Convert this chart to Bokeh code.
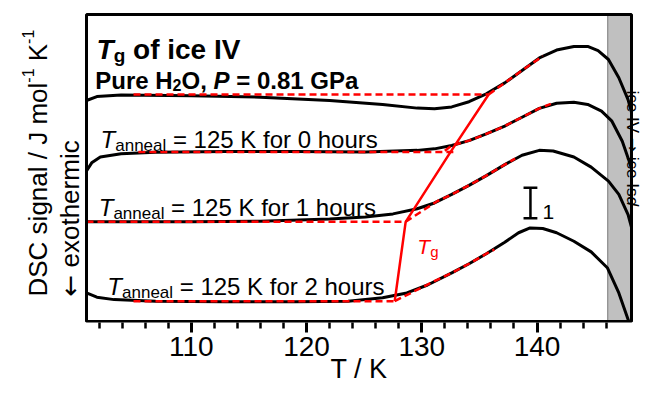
import math
from bokeh.plotting import figure
from bokeh.models import Range1d, FixedTicker, Label
from bokeh.embed import file_html
from bokeh.resources import INLINE

# ---------------- data ----------------
# DSC curves: temperature (K) and signal (J mol^-1 K^-1, offset for clarity)
T_c1 = [100.9, 101.8, 103.9, 110.0, 116.0, 122.0, 126.6, 129.6, 131.1, 132.6, 134.1, 135.6,
        137.2, 138.7, 140.2, 141.7, 143.2, 144.4, 145.3, 146.2, 147.1, 147.9, 148.2]
S_c1 = [7.27, 7.40, 7.45, 7.43, 7.38, 7.27, 7.14, 7.02, 7.00, 7.06, 7.23, 7.49,
        7.85, 8.26, 8.67, 8.93, 9.05, 9.05, 8.91, 8.62, 8.02, 7.30, 6.88]

T_c2 = [100.9, 101.35, 102.1, 103.9, 106.9, 113.0, 119.0, 125.1, 129.6, 131.1, 132.6, 134.1,
        135.6, 137.2, 138.7, 140.2, 141.7, 143.2, 144.4, 145.6, 146.5, 147.4, 148.0, 148.2]
S_c2 = [4.95, 5.22, 5.41, 5.52, 5.57, 5.59, 5.59, 5.58, 5.63, 5.68, 5.79, 5.95,
        6.17, 6.43, 6.72, 7.01, 7.18, 7.21, 7.14, 6.92, 6.59, 5.93, 5.27, 5.02]

T_c3 = [100.9, 110.0, 116.0, 122.0, 125.1, 127.5, 129.6, 131.1, 132.6, 134.1, 135.6, 137.2,
        138.7, 140.2, 141.4, 143.2, 144.7, 146.2, 147.1, 147.9, 148.2]
S_c3 = [3.28, 3.28, 3.30, 3.37, 3.44, 3.54, 3.71, 3.90, 4.18, 4.48, 4.80, 5.16,
        5.47, 5.63, 5.61, 5.41, 5.08, 4.62, 4.18, 3.52, 3.10]

T_c4 = [100.9, 101.8, 103.3, 106.9, 113.0, 119.0, 123.6, 126.6, 128.7, 130.5, 132.6, 134.1,
        135.6, 137.2, 138.4, 139.4, 140.5, 141.7, 143.2, 144.7, 146.1, 147.1, 147.95]
S_c4 = [0.94, 0.80, 0.72, 0.67, 0.65, 0.65, 0.67, 0.78, 0.94, 1.20, 1.60, 1.90,
        2.23, 2.61, 2.92, 3.08, 3.06, 2.92, 2.64, 2.29, 1.77, 0.94, 0.02]

# red dashed baselines (glass) and slopes (liquid) for each curve
base_T = [[104.98, 135.8], [105.4, 133.0], [100.9, 128.6], [104.98, 127.65]]
base_S = [[7.47, 7.47], [5.58, 5.58], [3.28, 3.28], [0.67, 0.67]]
slope_T = [[135.8, 137.2, 138.7, 140.5],
           [132.0, 132.6, 134.1, 135.6, 137.2, 138.7, 140.2, 141.2],
           [128.6, 131.3, 132.6, 134.1, 135.6, 137.2, 138.1],
           [127.65, 131.1, 132.6, 134.1, 135.6, 136.3]]
slope_S = [[7.47, 7.85, 8.26, 8.73],
           [5.62, 5.79, 5.95, 6.17, 6.43, 6.72, 7.01, 7.16],
           [3.28, 3.95, 4.18, 4.48, 4.80, 5.16, 5.36],
           [0.67, 1.33, 1.60, 1.90, 2.23, 2.37]]

# Tg onset points
Tg_T = [135.8, 132.5, 128.6, 127.65]
Tg_S = [7.47, 5.58, 3.28, 0.67]

anneal_hours = ["0", "1", "2"]
x_ticks = [110, 120, 130, 140]
x_minor = [102, 104, 106, 108, 112, 114, 116, 118, 122, 124, 126, 128,
           132, 134, 136, 138, 142, 144, 146]
T_lo, T_hi = 100.9, 148.2          # plotted temperature window
S_lo, S_hi = 0.0, 10.1             # plotted signal window
transition_T = 146.14              # onset of ice IV -> ice Isd
scale_bar_T = 139.43
scale_bar_S = [3.40, 4.40]

# ---------------- helpers ----------------
REG = {' ': 278, ',': 278, '-': 333, '.': 278, '/': 278, '=': 584,
       'A': 667, 'C': 722, 'D': 722, 'G': 778, 'H': 722, 'I': 278, 'J': 500, 'K': 667,
       'O': 778, 'P': 667, 'S': 667, 'T': 611, 'V': 667,
       'a': 556, 'c': 500, 'd': 556, 'e': 556, 'f': 278, 'g': 556, 'h': 556, 'i': 222,
       'l': 222, 'm': 833, 'n': 556, 'o': 556, 'r': 333, 's': 500, 't': 278, 'u': 556,
       'x': 500, '\u2190': 838, '\u2192': 838}
BOLD = dict(REG)
BOLD.update({'A': 722, 'K': 722, 'c': 556, 'd': 611, 'f': 333, 'g': 611, 'h': 611, 'i': 278,
             'l': 278, 'm': 889, 'n': 611, 'o': 611, 'r': 389, 's': 556, 't': 333, 'u': 611})
for d in "0123456789":
    REG[d] = 556
    BOLD[d] = 556

FONT = "Liberation Sans"
ARROW_FONT = "DejaVu Sans"


def tw(text, size, style):
    table = BOLD if "bold" in style else REG
    return sum(table.get(ch, 600) for ch in text) / 1000.0 * size


def runs(p, x, y, parts, angle=0.0):
    off = 0.0
    for part in parts:
        text, size, style, dy, color = part[:5]
        font = part[5] if len(part) > 5 else FONT
        body = text.lstrip(" ")
        off += tw(text[:len(text) - len(body)], size, style)
        if angle == 0:
            xo, yo = off, dy
        elif angle > 0:
            xo, yo = -dy, off
        else:
            xo, yo = dy, -off
        p.add_layout(Label(x=x, y=y, x_offset=xo, y_offset=yo, text=body,
                           text_font=font, text_font_size=f"{size}px",
                           text_font_style=style, text_color=color,
                           text_baseline="alphabetic", text_align="left", angle=angle))
        off += tw(body, size, style)


# ---------------- figure ----------------
W, H = 642, 386
BOX_L, BOX_R, BOX_T, BOX_B = 86, 631, 14, 321     # pixel box of the data window
FRAME_B = 322
kx = (BOX_R - BOX_L) / (T_hi - T_lo)
ky = (BOX_B - BOX_T) / (S_hi - S_lo)

p = figure(width=W, height=H, output_backend="svg", toolbar_location=None,
           x_range=Range1d(T_lo - BOX_L / kx, T_lo + (W - BOX_L) / kx),
           y_range=Range1d(S_lo - (FRAME_B - BOX_B) / ky, S_lo + BOX_B / ky),
           y_axis_location=None, min_border_left=0, min_border_right=0,
           min_border_top=0, min_border_bottom=H - FRAME_B)
p.xgrid.visible = False
p.ygrid.visible = False
p.outline_line_color = None
p.background_fill_color = "white"
p.border_fill_color = "white"

ax = p.xaxis[0]
ax.ticker = FixedTicker(ticks=x_ticks, minor_ticks=x_minor)
ax.axis_line_color = None
ax.major_tick_in = 0
ax.major_tick_out = 10
ax.major_tick_line_width = 3
ax.minor_tick_in = 0
ax.minor_tick_out = 6
ax.minor_tick_line_width = 2.5
ax.major_label_text_font = FONT
ax.major_label_text_font_size = "28px"
ax.major_label_text_color = "black"
ax.major_label_standoff = 4
# centred on the data box: pad with no-break spaces to shift right of the frame centre
ax.axis_label = "\u00a0" * 10 + "T / K"
ax.axis_label_text_font = FONT
ax.axis_label_text_font_size = "27px"
ax.axis_label_text_font_style = "normal"
ax.axis_label_text_color = "black"
ax.axis_label_standoff = -5

# grey region: ice IV -> ice Isd transition
p.quad(left=transition_T, right=T_hi, bottom=S_lo, top=S_hi, fill_color="#c0c0c0",
       line_color="#777777", line_width=1)

for T, S in [(T_c1, S_c1), (T_c2, S_c2), (T_c3, S_c3), (T_c4, S_c4)]:
    p.line(T, S, line_color="black", line_width=3)

for i in range(4):
    p.line(base_T[i], base_S[i], line_color="#ff0000", line_width=2.5, line_dash="7 4")
    p.line(slope_T[i], slope_S[i], line_color="#ff0000", line_width=2.5, line_dash="7 4")

p.line(Tg_T, Tg_S, line_color="#ff0000", line_width=2.5)

# data box frame
p.quad(left=T_lo, right=T_hi, bottom=S_lo, top=S_hi, fill_color=None,
       line_color="black", line_width=3)

# scale bar (1 J mol^-1 K^-1)
p.segment(x0=[scale_bar_T, scale_bar_T - 0.6, scale_bar_T - 0.6],
          y0=[scale_bar_S[0], scale_bar_S[0], scale_bar_S[1]],
          x1=[scale_bar_T, scale_bar_T + 0.6, scale_bar_T + 0.6],
          y1=[scale_bar_S[1], scale_bar_S[0], scale_bar_S[1]],
          line_color="black", line_width=2.5)
runs(p, 140.48, 3.60, [("1", 21, "normal", 0, "black")])

# titles inside
runs(p, 101.77, 8.948, [("T", 28, "bold italic", 0, "black"),
                        ("g", 19, "bold", -6, "black"),
                        (" of ice IV", 28, "bold", 0, "black")])
runs(p, 101.66, 7.929, [("Pure H", 24, "bold", 0, "black"),
                        ("2", 16, "bold", -5, "black"),
                        ("O, ", 24, "bold", 0, "black"),
                        ("P", 24, "bold italic", 0, "black"),
                        (" = 0.81 GPa", 24, "bold", 0, "black")])

label_pos = [(102.12, 5.988), (101.96, 3.760), (102.71, 1.161)]
for (lx, ly), h in zip(label_pos, anneal_hours):
    runs(p, lx, ly, [("T", 24, "italic", 0, "black"),
                     ("anneal", 17, "normal", -6, "black"),
                     (f" = 125 K for {h} hours", 24, "normal", 0, "black")])

runs(p, 129.61, 2.477, [("T", 21, "italic", 0, "#ff0000"),
                        ("g", 15, "normal", -5, "#ff0000")])

# y-axis title (two lines, reading upwards)
runs(p, 96.65, 0.822, [("DSC signal / J mol", 26, "normal", 0, "black"),
                       ("-1", 16, "normal", 10, "black"),
                       (" K", 26, "normal", 0, "black"),
                       ("-1", 16, "normal", 10, "black")], angle=math.pi / 2)
runs(p, 99.51, 0.822, [("\u2190", 26, "normal", 0, "black", ARROW_FONT),
                       (" exothermic", 26, "normal", 0, "black")], angle=math.pi / 2)

# right-hand note (reading downwards)
runs(p, 148.33, 7.60, [("ice IV ", 17, "normal", 0, "black"),
                       ("\u2192", 17, "normal", 0, "black", ARROW_FONT),
                       (" ice Is", 17, "normal", 0, "black"),
                       ("d", 17, "italic", 0, "black")], angle=-math.pi / 2)

open("out.html", "w").write(file_html(p, INLINE))
